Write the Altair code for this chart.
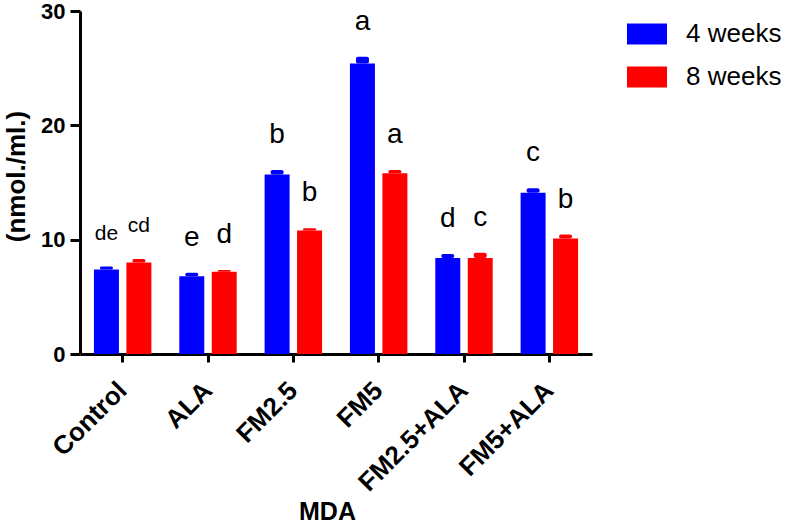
import altair as alt
import pandas as pd

# MDA levels per treatment group at two time points
groups = ["Control", "ALA", "FM2.5", "FM5", "FM2.5+ALA", "FM5+ALA"]
wk4_mean = [7.4, 6.8, 15.7, 25.4, 8.4, 14.1]
wk4_err = [0.25, 0.3, 0.4, 0.6, 0.35, 0.4]
wk8_mean = [8.0, 7.2, 10.8, 15.8, 8.4, 10.1]
wk8_err = [0.3, 0.15, 0.2, 0.3, 0.45, 0.35]
wk4_letters = ["de", "e", "b", "a", "d", "c"]
wk8_letters = ["cd", "d", "b", "a", "c", "b"]
periods = ["4 weeks", "8 weeks"]

rows = []
for i, g in enumerate(groups):
    rows.append({"group": g, "period": periods[0], "mean": wk4_mean[i],
                 "top": wk4_mean[i] + wk4_err[i], "letter": wk4_letters[i]})
    rows.append({"group": g, "period": periods[1], "mean": wk8_mean[i],
                 "top": wk8_mean[i] + wk8_err[i], "letter": wk8_letters[i]})
df = pd.DataFrame(rows)

FONT = "Liberation Sans"
palette = alt.Scale(domain=periods, range=["#0000ff", "#ff0000"])

x_enc = alt.X(
    "group:N", sort=groups, title="MDA",
    scale=alt.Scale(paddingInner=0, paddingOuter=0),
    axis=alt.Axis(labelAngle=-45, labelAlign="right", labelBaseline="middle",
                  labelFontSize=26, labelFontWeight="bold", labelPadding=24,
                  titleFontSize=25, titleFontWeight="bold",
                  titleX=247, titleY=165, titleBaseline="alphabetic",
                  tickSize=8, tickWidth=3, domainWidth=3),
)
xoff = alt.XOffset("period:N", sort=periods,
                   scale=alt.Scale(paddingInner=0.23, paddingOuter=0.43))
y_scale = alt.Scale(domain=[0, 30], nice=False)
color = alt.Color(
    "period:N", sort=periods, scale=palette,
    legend=alt.Legend(title=None, orient="none", legendX=547, legendY=3,
                      symbolType="M-1,-0.52H1V0.52H-1Z", symbolSize=1600,
                      symbolStrokeWidth=0, labelFontSize=26, labelFont=FONT,
                      labelOffset=19, rowPadding=10),
)

base = alt.Chart(df).encode(x=x_enc, xOffset=xoff)

bars = base.mark_bar().encode(
    y=alt.Y("mean:Q", scale=y_scale, title="(nmol./ml.)",
            axis=alt.Axis(values=[0, 10, 20, 30], grid=False,
                          labelFontSize=22, labelFontWeight="bold",
                          titleFontSize=26, titleFontWeight="bold",
                          titleX=-64, titleY=165, titleBaseline="middle",
                          tickSize=10, tickWidth=3, domainWidth=3,
                          labelPadding=5)),
    color=color,
)

# error caps drawn as narrow stubs above each bar
errs = base.mark_bar(width=13, cornerRadius=2).encode(
    y=alt.Y("mean:Q", scale=y_scale),
    y2="top:Q",
    color=alt.Color("period:N", sort=periods, scale=palette, legend=None),
)

letters = base.mark_text(baseline="alphabetic", dy=-27, font=FONT,
                         color="black").encode(
    y=alt.Y("top:Q", scale=y_scale),
    text="letter:N",
    size=alt.condition("datum.group === 'Control'", alt.value(21), alt.value(28)),
)

chart = (
    alt.layer(bars, errs, letters)
    .properties(width=512, height=343,
                autosize=alt.AutoSizeParams(type="none"),
                padding={"left": 80, "top": 11, "right": 195, "bottom": 169})
    .configure(font=FONT)
    .configure_view(stroke=None)
    .configure_axis(domainColor="black", tickColor="black",
                    labelColor="black", titleColor="black", labelFont=FONT,
                    titleFont=FONT)
)

chart.save("out.html", embed_options={"renderer": "svg", "actions": False})
